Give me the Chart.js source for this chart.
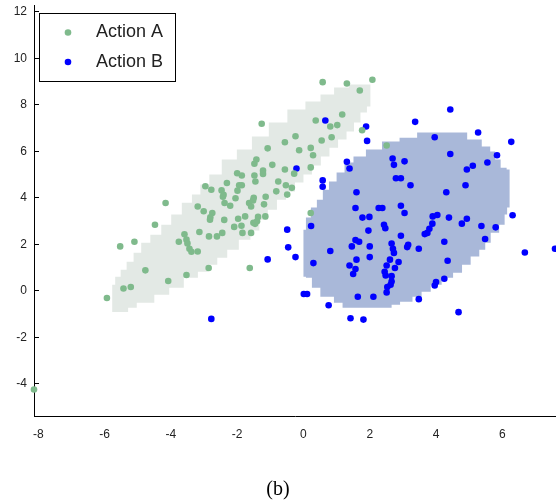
<!DOCTYPE html>
<html>
<head>
<meta charset="utf-8">
<script src="https://cdn.jsdelivr.net/npm/chart.js@4.4.1/dist/chart.umd.min.js"></script>
<style>
  html, body { margin: 0; padding: 0; background: #fff; }
  #wrap { width: 556px; height: 504px; }
</style>
</head>
<body>
<div id="wrap"><canvas id="chart" width="556" height="504"></canvas></div>
<script>
// series names and colours
const seriesNames = ["Action A", "Action B"];
const seriesColors = ["#7fba8c", "#0000ff"];
const regionColors = ["#e3e9e5", "#a9b8d9"];

// Action A samples
const greenX = [
  0.58, 1.31, 2.08, 1.70, 1.17, 0.37, 0.81, 1.02, 1.77, -1.26,
  -0.56, -0.24, 0.55, 0.85, -1.08, -0.13, 0.22, 0.29, -1.42, -1.48,
  -0.94, -0.56, -0.28, 0.22, -2.00, -1.86, -1.22, -1.22, -1.48, -1.45,
  -2.31, -1.94, -1.86, -0.76, -0.53, -0.35, -2.96, -2.78, -2.47, -1.99,
  -2.41, -2.43, -2.05, -1.50, -1.14, -0.82, -0.49, -4.16, -2.38, -2.21,
  -1.64, -1.52, -1.58, -1.19, -3.19, -3.01, -2.75, -2.81, -2.82, -2.39,
  -1.97, -1.76, -1.37, -1.15, -1.51, -1.40, -1.46, -2.09, -1.87, -1.84,
  -1.58, -2.45, -2.61, -2.85, -3.14, -3.59, -3.76, -3.53, -3.50, -3.44,
  -3.38, -3.19, -4.48, -5.53, -5.10, -4.77, -4.08, -3.53, -2.86, -1.62,
  -5.43, -5.21, -5.93, 0.22, 2.51, -8.13
];
const greenY = [
  8.98, 8.92, 9.08, 8.62, 7.59, 7.33, 7.07, 7.13, 6.91, 7.19,
  6.39, 6.65, 6.47, 6.61, 6.13, 6.05, 6.15, 5.83, 5.65, 5.47,
  5.42, 5.22, 5.04, 5.31, 5.06, 4.96, 5.17, 5.03, 4.96, 4.70,
  4.64, 4.54, 4.54, 4.70, 4.54, 4.43, 4.50, 4.35, 4.32, 4.31,
  4.13, 4.05, 3.98, 4.00, 4.05, 4.28, 4.14, 3.78, 3.78, 3.66,
  3.78, 3.89, 3.63, 3.72, 3.63, 3.42, 3.35, 3.16, 3.06, 3.05,
  3.10, 3.20, 3.18, 3.20, 2.93, 2.99, 2.88, 2.75, 2.80, 2.49,
  2.49, 2.49, 2.34, 2.34, 2.53, 2.43, 2.11, 2.20, 2.04, 1.81,
  1.68, 1.69, 2.84, 1.91, 2.11, 0.88, 0.42, 0.68, 0.98, 0.98,
  0.10, 0.16, -0.31, 3.35, 6.25, -4.25
];

// Action B samples
const blueX = [
  4.43, 3.37, 0.66, 1.89, 1.92, 5.27, 6.27, 3.96, 4.43, 5.84,
  5.55, 5.11, 4.93, 4.89, 4.31, 2.69, 2.73, 3.05, 2.79, 2.94,
  3.23, 1.31, 1.39, 0.58, 0.58, -0.21, 1.60, 1.57, 2.27, 2.38,
  2.94, 3.05, 1.78, 1.99, 1.96, 2.43, 2.47, 2.94, 1.57, 1.68,
  1.46, 2.00, 0.81, 0.23, -0.24, -0.49, -0.46, -1.08, 2.66, 2.70,
  2.73, 3.13, 3.16, 3.48, 3.90, 4.04, 4.39, 4.93, 4.78, 3.89,
  3.80, 3.74, 3.66, 4.25, 5.37, 5.80, 5.48, 6.31, 6.68, 7.59,
  4.35, 4.25, 4.00, 3.96, 4.68, 3.48, 2.66, 2.63, 2.53, 2.51,
  2.61, 2.87, 2.51, 2.76, 2.45, 2.48, 2.66, 2.00, 1.60, 1.39,
  1.57, 1.50, 0.30, 1.64, 2.11, 0.01, 0.11, 0.76, 1.42, 1.81, -2.78
];
const blueY = [
  7.80, 7.27, 7.33, 7.07, 6.45, 6.81, 6.41, 6.61, 5.89, 5.83,
  5.52, 5.38, 5.22, 4.54, 4.24, 5.69, 5.42, 5.57, 4.84, 4.84,
  4.54, 5.55, 5.26, 4.75, 4.48, 5.26, 4.24, 3.56, 3.56, 3.56,
  3.66, 3.35, 3.15, 3.18, 2.59, 2.84, 2.69, 2.37, 2.18, 2.11,
  1.91, 1.91, 1.71, 2.79, 1.45, 2.63, 1.87, 1.35, 2.03, 1.81,
  1.63, 1.88, 1.98, 1.81, 3.20, 3.26, 3.15, 3.10, 2.89, 2.89,
  2.67, 2.49, 2.44, 2.11, 2.79, 2.73, 2.23, 3.25, 1.65, 1.81,
  1.29, 0.52, 0.38, 0.23, -0.92, -0.36, 0.40, 0.26, 0.16, -0.07,
  1.34, 1.24, 1.09, 0.98, 0.82, 0.66, 0.63, 1.45, 1.34, 1.09,
  0.94, 0.72, 1.19, -0.26, -0.26, -0.14, -0.14, -0.62, -1.18, -1.24, -1.21
];

// outline of the region classified as Action A
const regionAX = [
  -5.77, -5.77, -5.59, -5.44, -5.23, -5.02, -4.77, -4.47, -4.11, -3.87, -3.47, -3.26,
  -2.96, -2.72, -2.21, -1.81, -1.30, -0.79, -0.18, 0.30, 0.73, 1.12, 1.63, 2.02,
  2.02, 1.81, 1.63, 1.42, 1.18, 0.91, 0.66, 0.39, 0.12, -0.12, -0.39, -0.66, -0.94,
  -1.21, -1.45, -1.75, -2.15, -2.45, -2.75, -3.02, -3.35, -3.87, -4.23, -4.77, -5.29, -5.29, -5.77
];
const regionAY = [
  -0.91, 0.26, 0.60, 0.91, 1.25, 1.64, 2.07, 2.41, 2.84, 3.28, 3.79, 4.14,
  4.57, 5.00, 5.65, 6.08, 6.64, 7.24, 7.80, 8.15, 8.45, 8.75, 8.88, 8.88,
  7.93, 7.67, 7.24, 6.85, 6.51, 6.16, 5.78, 5.39, 5.00, 4.66, 4.27, 3.92, 3.49,
  3.06, 2.59, 2.20, 1.77, 1.42, 1.12, 0.82, 0.56, 0.13, -0.17, -0.52, -0.73, -0.91, -0.91
];

// outline of the region classified as Action B
const regionBX = [
  0.00, 0.00, 0.15, 0.30, 0.51, 0.66, 0.88, 1.12, 1.36, 1.66, 2.11, 2.63, 3.17, 3.69,
  4.68, 5.20, 5.56, 5.71, 5.86, 6.04, 6.22, 6.22, 6.07, 6.07, 5.74, 5.56, 5.41, 5.20,
  4.89, 4.68, 4.35, 3.99, 3.69, 3.44, 3.14, 2.69, 2.63, 1.18, 1.18, 0.66, 0.36, 0.15, 0.00
];
const regionBY = [
  0.60, 2.63, 3.15, 3.58, 3.92, 4.35, 4.70, 5.09, 5.52, 5.78, 6.08, 6.42, 6.59, 6.81,
  6.81, 6.51, 6.21, 5.99, 5.65, 5.30, 5.22, 3.58, 3.28, 2.84, 2.50, 2.07, 1.77, 1.47,
  1.12, 0.78, 0.56, 0.26, -0.04, -0.26, -0.47, -0.60, -0.73, -0.73, -0.52, -0.26, 0.13, 0.56, 0.60
];

// axis range and caption
const xRange = [-8.13, 7.62];
const yRange = [-5.39, 12.3];
const caption = "(b)";

const toPoints = (xs, ys) => xs.map((x, i) => ({ x: x, y: ys[i] }));

const pointSet = (i, xs, ys) => ({
  label: seriesNames[i],
  data: toPoints(xs, ys),
  backgroundColor: seriesColors[i],
  borderWidth: 0,
  pointRadius: 3.3,
  clip: false
});

// grid-cell look of the decision regions: stepped outline
const regionSet = (i, xs, ys) => ({
  label: "",
  data: toPoints(xs, ys),
  showLine: true,
  stepped: "middle",
  fill: "shape",
  backgroundColor: regionColors[i],
  borderColor: "rgba(0,0,0,0)",
  borderWidth: 0,
  pointRadius: 0
});

// legend drawn as a framed box inside the plot, like the original
const boxLegend = {
  id: "boxLegend",
  afterDatasetsDraw(chart) {
    const { ctx, chartArea } = chart;
    const x0 = chartArea.left + 5.5, y0 = chartArea.top + 8.5;
    ctx.save();
    ctx.fillStyle = "#fff";
    ctx.fillRect(x0, y0, 136, 68);
    ctx.strokeStyle = "#000";
    ctx.lineWidth = 1;
    ctx.strokeRect(x0, y0, 136, 68);
    ctx.font = '18px "Liberation Sans", Arial, sans-serif';
    ctx.textBaseline = "middle";
    seriesNames.forEach((name, i) => {
      const cy = y0 + 19 + i * 29.5;
      ctx.fillStyle = seriesColors[i];
      ctx.beginPath();
      ctx.arc(x0 + 28.5, cy, 3.3, 0, Math.PI * 2);
      ctx.fill();
      ctx.fillStyle = "#222";
      ctx.fillText(name, x0 + 56.5, cy);
    });
    ctx.restore();
  }
};

const tickFont = { family: '"Liberation Sans", Arial, sans-serif', size: 12 };

// fixed axis sizes, no extra room reserved for edge labels
const fixX = (s) => { s.height = 40; s.paddingLeft = 0; s.paddingRight = 0; };
const fixY = (s) => { s.width = 34; s.paddingTop = 0; s.paddingBottom = 0; };

const config = {
  type: "scatter",
  data: {
    datasets: [
      pointSet(0, greenX, greenY),
      pointSet(1, blueX, blueY),
      regionSet(0, regionAX, regionAY),
      regionSet(1, regionBX, regionBY)
    ]
  },
  options: {
    responsive: false,
    animation: false,
    layout: { autoPadding: false, padding: { top: 5, left: 0, right: 0, bottom: 0 } },
    scales: {
      x: {
        type: "linear",
        min: xRange[0],
        max: xRange[1],
        afterFit: fixX,
        border: { display: true, color: "#000", width: 1 },
        grid: { display: false, drawTicks: false },
        ticks: { stepSize: 2, includeBounds: false, padding: 11, color: "#222", font: tickFont }
      },
      y: {
        type: "linear",
        min: yRange[0],
        max: yRange[1],
        afterFit: fixY,
        border: { display: true, color: "#000", width: 1 },
        grid: { display: true, drawOnChartArea: false, drawTicks: true, tickLength: -5, color: "#000" },
        ticks: { stepSize: 2, includeBounds: false, padding: 12, color: "#222", font: tickFont }
      }
    },
    plugins: {
      legend: { display: false },
      tooltip: { enabled: false },
      title: {
        display: true,
        text: caption,
        position: "bottom",
        color: "#000",
        font: { family: '"Liberation Serif", "DejaVu Serif", serif', size: 20, weight: "normal" },
        padding: { top: 22, bottom: 2 }
      }
    }
  },
  plugins: [boxLegend]
};

const ctx = document.getElementById("chart").getContext("2d");
const chart = new Chart(ctx, config);
</script>
</body>
</html>
